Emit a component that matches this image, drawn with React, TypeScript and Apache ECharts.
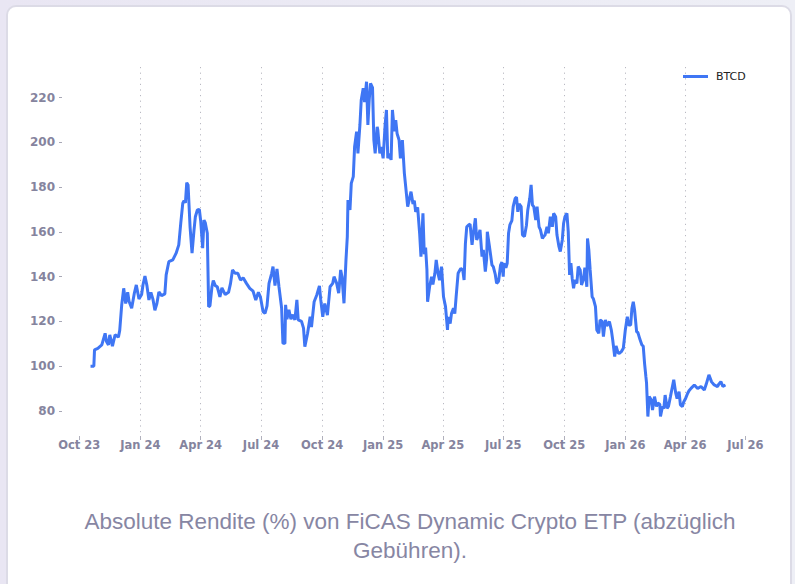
import React, { useEffect, useRef } from "react";
import * as echarts from "echarts";

const seriesName = "BTCD";

const dates: string[] = [
  "2023-10-18","2023-10-23","2023-10-24","2023-10-29","2023-11-04","2023-11-09","2023-11-11","2023-11-14","2023-11-16","2023-11-20",
  "2023-11-24","2023-11-29","2023-12-01","2023-12-04","2023-12-07","2023-12-10","2023-12-13","2023-12-15","2023-12-19","2023-12-23",
  "2023-12-26","2023-12-30","2024-01-03","2024-01-05","2024-01-08","2024-01-11","2024-01-14","2024-01-17","2024-01-20","2024-01-23",
  "2024-01-26","2024-01-29","2024-02-02","2024-02-07","2024-02-09","2024-02-13","2024-02-19","2024-02-24","2024-02-28","2024-03-02",
  "2024-03-05","2024-03-07","2024-03-09","2024-03-11","2024-03-13","2024-03-16","2024-03-19","2024-03-22","2024-03-24","2024-03-27",
  "2024-03-30","2024-04-01","2024-04-04","2024-04-06","2024-04-08","2024-04-11","2024-04-13","2024-04-15","2024-04-18","2024-04-20",
  "2024-04-23","2024-04-26","2024-04-30","2024-05-03","2024-05-08","2024-05-13","2024-05-16","2024-05-19","2024-05-23","2024-05-27",
  "2024-05-31","2024-06-04","2024-06-09","2024-06-14","2024-06-19","2024-06-23","2024-06-27","2024-06-30","2024-07-04","2024-07-07",
  "2024-07-10","2024-07-13","2024-07-17","2024-07-19","2024-07-22","2024-07-25","2024-07-28","2024-08-01","2024-08-03","2024-08-06",
  "2024-08-07","2024-08-09","2024-08-12","2024-08-15","2024-08-18","2024-08-21","2024-08-24","2024-08-26","2024-08-31","2024-09-03",
  "2024-09-05","2024-09-09","2024-09-13","2024-09-15","2024-09-19","2024-09-23","2024-09-27","2024-09-29","2024-10-02","2024-10-05",
  "2024-10-09","2024-10-13","2024-10-17","2024-10-19","2024-10-23","2024-10-26","2024-10-29","2024-10-31","2024-11-03","2024-11-06",
  "2024-11-08","2024-11-09","2024-11-12","2024-11-14","2024-11-17","2024-11-19","2024-11-22","2024-11-24","2024-11-27","2024-11-29",
  "2024-12-02","2024-12-04","2024-12-07","2024-12-09","2024-12-11","2024-12-13","2024-12-16","2024-12-18","2024-12-20","2024-12-23",
  "2024-12-24","2024-12-27","2024-12-29","2025-01-01","2025-01-04","2025-01-06","2025-01-08","2025-01-10","2025-01-13","2025-01-15",
  "2025-01-18","2025-01-20","2025-01-22","2025-01-25","2025-01-27","2025-01-30","2025-02-02","2025-02-04","2025-02-07","2025-02-09",
  "2025-02-12","2025-02-15","2025-02-17","2025-02-19","2025-02-22","2025-02-25","2025-02-27","2025-03-02","2025-03-04","2025-03-06",
  "2025-03-08","2025-03-09","2025-03-12","2025-03-15","2025-03-17","2025-03-20","2025-03-22","2025-03-25","2025-03-27","2025-03-30",
  "2025-04-02","2025-04-05","2025-04-08","2025-04-09","2025-04-12","2025-04-14","2025-04-17","2025-04-19","2025-04-21","2025-04-24",
  "2025-04-28","2025-05-01","2025-05-03","2025-05-05","2025-05-07","2025-05-10","2025-05-12","2025-05-15","2025-05-17","2025-05-20",
  "2025-05-22","2025-05-25","2025-05-27","2025-05-30","2025-06-01","2025-06-04","2025-06-06","2025-06-07","2025-06-10","2025-06-14",
  "2025-06-16","2025-06-19","2025-06-21","2025-06-24","2025-06-27","2025-06-29","2025-07-01","2025-07-02","2025-07-05","2025-07-07",
  "2025-07-09","2025-07-11","2025-07-14","2025-07-16","2025-07-19","2025-07-21","2025-07-23","2025-07-25","2025-07-28","2025-07-30",
  "2025-08-02","2025-08-05","2025-08-07","2025-08-10","2025-08-12","2025-08-14","2025-08-16","2025-08-19","2025-08-21","2025-08-24",
  "2025-08-26","2025-08-29","2025-08-31","2025-09-02","2025-09-05","2025-09-07","2025-09-10","2025-09-13","2025-09-15","2025-09-18",
  "2025-09-20","2025-09-23","2025-09-25","2025-09-28","2025-09-30","2025-10-02","2025-10-05","2025-10-07","2025-10-09","2025-10-11",
  "2025-10-13","2025-10-15","2025-10-17","2025-10-20","2025-10-22","2025-10-25","2025-10-27","2025-10-30","2025-11-01","2025-11-04",
  "2025-11-05","2025-11-07","2025-11-09","2025-11-12","2025-11-14","2025-11-17","2025-11-19","2025-11-22","2025-11-24","2025-11-27",
  "2025-11-29","2025-12-02","2025-12-04","2025-12-08","2025-12-11","2025-12-13","2025-12-16","2025-12-18","2025-12-21","2025-12-23",
  "2025-12-26","2025-12-29","2026-01-01","2026-01-04","2026-01-06","2026-01-09","2026-01-11","2026-01-13","2026-01-15","2026-01-18",
  "2026-01-20","2026-01-23","2026-01-26","2026-01-28","2026-01-30","2026-02-01","2026-02-02","2026-02-04","2026-02-06","2026-02-09",
  "2026-02-11","2026-02-14","2026-02-17","2026-02-19","2026-02-22","2026-02-23","2026-02-26","2026-02-28","2026-03-02","2026-03-05",
  "2026-03-07","2026-03-10","2026-03-13","2026-03-15","2026-03-18","2026-03-20","2026-03-23","2026-03-25","2026-03-28","2026-03-30",
  "2026-04-02","2026-04-05","2026-04-07","2026-04-10","2026-04-15","2026-04-20","2026-04-25","2026-04-30","2026-05-03","2026-05-07",
  "2026-05-11","2026-05-15","2026-05-20","2026-05-22","2026-05-25","2026-05-28","2026-06-01",
];

const values: number[] = [
  100, 100, 107.3, 108, 109.5, 114.7, 111, 109.5, 114, 109,
  114, 113, 116, 127.4, 134.8, 128, 133, 129, 125.9, 132.6,
  136.3, 130, 132, 136.3, 140.3, 136, 129.6, 133, 130, 125,
  128, 133.2, 131.5, 132.3, 140.8, 146.7, 147.5, 150.5, 154.2, 163.9,
  172.8, 174, 173, 182, 181, 162.3, 150.5, 160.9, 166.8, 169.8,
  170, 165, 152.7, 165.3, 164, 159.4, 126.6, 127, 135.5, 138.3,
  136, 135.5, 131, 135, 132, 133, 137, 143, 141.5, 141.5,
  138.5, 139.5, 137, 134.8, 133.5, 129.6, 133, 131, 124.4, 123.6,
  127, 137, 141.5, 144.5, 136, 143.5, 135.5, 126, 110.2, 110.2,
  127.4, 121, 125.2, 121, 123, 120.7, 129.6, 120.7, 120, 117,
  108.7, 114.5, 122.1, 117.5, 128.8, 131.8, 135.9, 129.6, 122.1, 128,
  122.8, 135.5, 137, 140, 137, 132.6, 143, 140, 128.1, 147.5,
  157.9, 174.3, 169.8, 181.7, 184.7, 198.1, 204.8, 195.1, 207.8, 219,
  224.2, 218, 227.1, 207.8, 219, 226.4, 224.5, 201.1, 195.1, 207,
  205.5, 195.1, 198, 192.9, 207.8, 214.5, 192.9, 195, 192.2, 214.5,
  205, 210, 204, 201.1, 192.9, 201, 186.2, 180.2, 171.3, 174,
  178, 172.5, 174, 169, 171, 159.4, 148.9, 168.3, 150, 153,
  143, 128.8, 135.5, 140, 136.5, 141.5, 147.5, 141, 138.5, 144.5,
  131, 126.6, 116.2, 122, 119, 123.5, 125.9, 123.5, 131, 141.5,
  143.7, 143, 138.5, 154.9, 162.3, 163.1, 163.5, 154.2, 159.4, 166.1,
  156.4, 158.6, 160.9, 149, 152, 142.3, 148, 160.1, 154, 145.2,
  144.5, 141, 137, 138, 145.2, 146.5, 140, 146, 144, 146,
  159.4, 163.1, 165, 171.3, 175, 175.5, 169, 172.5, 171.3, 158.6,
  158, 163, 169.8, 175, 181, 172, 171.3, 165.3, 171.3, 162.3,
  161, 157.1, 158, 158.6, 162.3, 159.4, 166.8, 162.3, 168.3, 166.8,
  158.6, 153.4, 151.2, 156.4, 163.9, 166.8, 168.3, 160, 140.8, 146,
  139, 134.8, 138.5, 137, 144.5, 143, 136.3, 139, 144, 135.5,
  157.1, 152, 143, 131, 130, 126.6, 116.2, 114.7, 120.7, 120,
  113.2, 120.7, 118, 119.9, 116, 111.7, 104.3, 109, 106, 105.8,
  106.5, 108, 116.2, 122.1, 118.4, 118.4, 125.9, 128.8, 125, 115.4,
  115, 112, 109.5, 109, 101.3, 95.3, 92.4, 77.5, 86.4, 85,
  80.4, 86.4, 82, 83.5, 83, 77.5, 82, 81, 87.1, 81.2,
  82, 86.4, 90.9, 93.9, 87.9, 85.5, 88.6, 82.7, 82, 84,
  85.7, 87.9, 89, 90.1, 91.6, 90, 90.9, 89.4, 92, 96.1,
  93, 91.6, 90.9, 92, 93.1, 91, 91.6,
];

const xTickDates: string[] = [
  "2023-10-01","2024-01-01","2024-04-01","2024-07-01","2024-10-01","2025-01-01",
  "2025-04-01","2025-07-01","2025-10-01","2026-01-01","2026-04-01","2026-07-01",
];
const xRange: string[] = ["2023-09-05", "2026-07-26"];
const monthNames: string[] = ["Jan","Feb","Mar","Apr","May","Jun","Jul","Aug","Sep","Oct","Nov","Dec"];
const yTickValues: number[] = [80, 100, 120, 140, 160, 180, 200, 220];

const caption = "Absolute Rendite (%) von FiCAS Dynamic Crypto ETP (abzüglich Gebühren).";

const ts = (d: string) => +echarts.time.parse(d);

export default function App() {
  const ref = useRef<HTMLDivElement>(null);

  useEffect(() => {
    if (!ref.current) return;
    const chart = echarts.init(ref.current, null, { renderer: "svg" });
    const labelColor = "#85849e";
    const xTicks = xTickDates.map(ts);
    chart.setOption({
      animation: false,
      grid: { left: 62, top: 67, width: 700, height: 369 },
      legend: {
        data: [seriesName],
        left: 683,
        top: 71,
        padding: 0,
        icon: "rect",
        itemWidth: 25,
        itemHeight: 3,
        textStyle: { fontFamily: "DejaVu Sans", fontSize: 11, color: "#222", padding: [0, 0, 0, 3] },
      },
      xAxis: {
        type: "value",
        min: ts(xRange[0]),
        max: ts(xRange[1]),
        axisLine: { show: false },
        axisTick: { show: true, length: 4, customValues: xTicks, lineStyle: { color: "#b0b0bc" } },
        axisLabel: {
          customValues: xTicks,
          fontFamily: "DejaVu Sans",
          fontWeight: "bold",
          fontSize: 11.5,
          color: labelColor,
          margin: 3,
          formatter: (v: number) => {
            const d = new Date(v);
            return monthNames[d.getMonth()] + " " + String(d.getFullYear()).slice(2);
          },
        },
        splitLine: {
          show: true,
          showMinLine: false,
          showMaxLine: false,
          lineStyle: { color: "#b9b9c2", width: 1, type: [1.2, 4.4] },
        },
      },
      yAxis: {
        type: "value",
        min: 68.8,
        max: 233.7,
        axisLine: { show: false },
        axisTick: { show: true, length: 3, customValues: yTickValues, lineStyle: { color: "#a8a8b6" } },
        axisLabel: {
          customValues: yTickValues,
          fontFamily: "DejaVu Sans",
          fontWeight: "bold",
          fontSize: 12,
          color: labelColor,
          margin: 7,
        },
        splitLine: { show: false },
      },
      series: [
        {
          name: seriesName,
          type: "line",
          showSymbol: false,
          data: dates.map((d, i) => [ts(d), values[i]]),
          lineStyle: { color: "#3f76f4", width: 3 },
          itemStyle: { color: "#3f76f4" },
        },
      ],
    });
    return () => chart.dispose();
  }, []);

  return (
    <div style={{ position: "fixed", left: 0, top: 0, width: 795, height: 584, background: "linear-gradient(90deg,#e9e6f3,#eeeff6)", overflow: "hidden" }}>
      <div style={{ position: "absolute", left: 6, top: 5, width: 782, height: 600, background: "#fff", border: "2px solid #dcdbe6", borderRadius: 10 }} />
      <div ref={ref} style={{ position: "absolute", left: 0, top: 0, width: 795, height: 480 }} />
      <div style={{ position: "absolute", left: 65, top: 507, width: 690, textAlign: "center", fontFamily: "'Liberation Sans', Arial, sans-serif", fontSize: 22.5, lineHeight: "29px", color: "#8786a3" }}>
        {caption}
      </div>
    </div>
  );
}
